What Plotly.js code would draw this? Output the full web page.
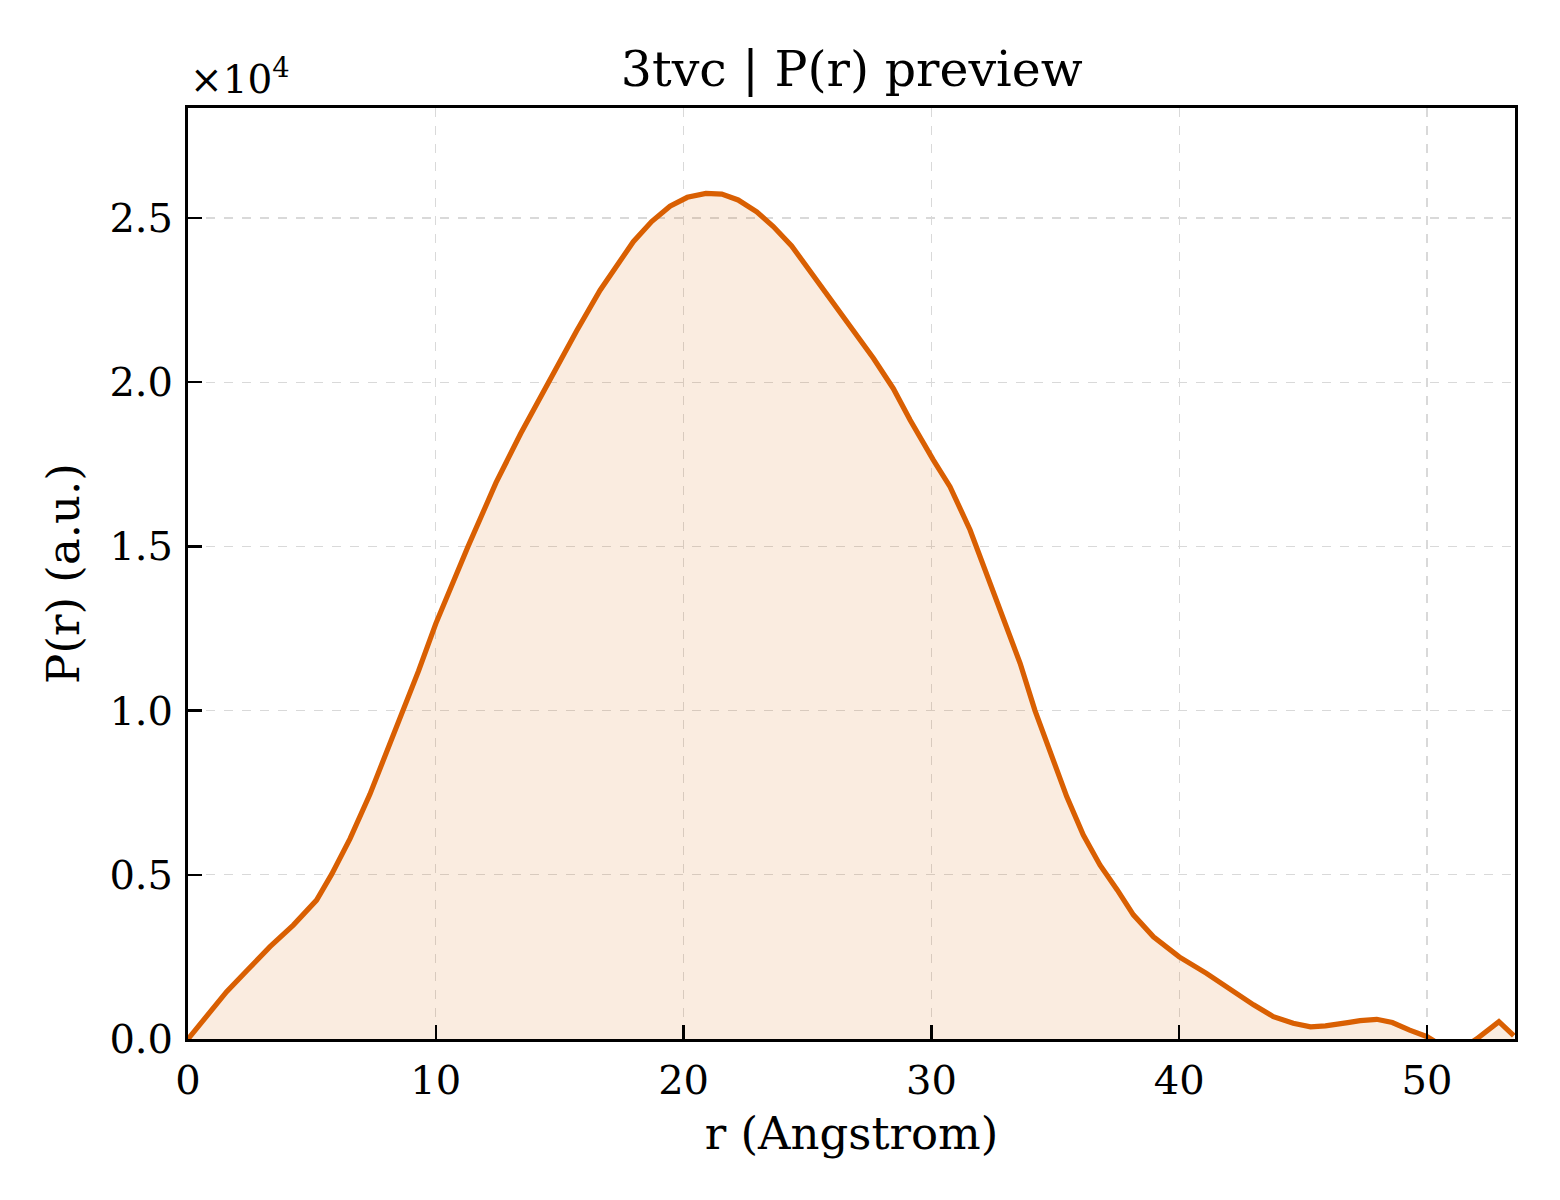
<!DOCTYPE html>
<html>
<head>
<meta charset="utf-8">
<script src="https://cdn.plot.ly/plotly-3.0.1.min.js"></script>
<style>
  body { margin: 0; background: #fff; }
  #chart { width: 1560px; height: 1200px; }
</style>
</head>
<body>
<div id="chart"></div>
<script>
// P(r) (r in Angstrom, P in a.u.)
let r_vals = [0, 0.8, 1.56, 2.4, 3.31, 4.25, 5.19, 5.8, 6.54, 7.34, 8.0, 8.68, 9.3, 10.0, 10.7, 11.3, 12.0, 12.43, 13.42, 14.55, 15.68, 16.63, 17.3, 17.97, 18.71, 19.45, 20.15, 20.9, 21.54, 22.2, 22.95, 23.62, 24.36, 25.23, 26.04, 26.85, 27.66, 28.46, 29.14, 30.08, 30.75, 31.56, 32.23, 32.9, 33.58, 34.18, 34.79, 35.46, 36.13, 36.8, 37.5, 38.15, 38.96, 40.0, 41.1, 42.2, 43.0, 43.8, 44.6, 45.3, 45.9, 46.8, 47.3, 47.97, 48.6, 49.3, 50.0, 50.7, 51.4, 52.0, 52.9, 53.5]
let p_vals = [0, 750, 1440, 2100, 2810, 3470, 4230, 5020, 6100, 7450, 8700, 10000, 11200, 12650, 13950, 15000, 16200, 16940, 18430, 20000, 21560, 22800, 23570, 24280, 24890, 25360, 25630, 25750, 25730, 25550, 25190, 24740, 24150, 23260, 22450, 21590, 20730, 19810, 18850, 17630, 16820, 15500, 14180, 12860, 11440, 10000, 8700, 7380, 6210, 5300, 4540, 3780, 3110, 2500, 2000, 1440, 1040, 680, 480, 370, 400, 500, 560, 600, 500, 270, 70, -250, -300, 0, 530, 100]

let yScale = 1e4
let yTicks = [0, 5000, 10000, 15000, 20000, 25000]
let xTicks = [0, 10, 20, 30, 40, 50]

let lineColor = '#d95f02'
let fontFam = 'DejaVu Serif, Liberation Serif, serif'

let trace = {
  x: r_vals,
  y: p_vals,
  type: 'scatter',
  mode: 'lines',
  fill: 'tozeroy',
  fillcolor: 'rgba(217,95,2,0.12)',
  line: { color: lineColor, width: 5.2 },
  hoverinfo: 'skip'
}

let axisCommon = {
  showline: true,
  linecolor: '#000',
  linewidth: 3,
  mirror: true,
  ticks: 'inside',
  ticklen: 14,
  tickwidth: 2.5,
  tickcolor: '#000',
  ticklabelstandoff: 4,
  showgrid: true,
  gridcolor: '#d9d9d9',
  gridwidth: 1.2,
  griddash: 'dash',
  zeroline: false,
  tickfont: { family: fontFam, size: 40, color: '#000' }
}

let layout = {
  width: 1560,
  height: 1200,
  paper_bgcolor: '#fff',
  plot_bgcolor: '#fff',
  showlegend: false,
  margin: { l: 188, r: 45, t: 108, b: 161, pad: 0 },
  font: { family: fontFam, color: '#000' },
  title: {
    text: '3tvc | P(r) preview',
    font: { family: fontFam, size: 49, color: '#000' },
    x: 0.546, xanchor: 'center',
    y: 0.943, yanchor: 'middle'
  },
  xaxis: Object.assign({}, axisCommon, {
    range: [0, 53.55],
    tickvals: xTicks,
    ticktext: xTicks.map(v => String(v)),
    title: { text: 'r (Angstrom)', font: { family: fontFam, size: 45, color: '#000' }, standoff: 16 }
  }),
  yaxis: Object.assign({}, axisCommon, {
    range: [0, 28350],
    tickvals: yTicks,
    ticktext: yTicks.map(v => (v / yScale).toFixed(1)),
    title: { text: 'P(r) (a.u.)', font: { family: fontFam, size: 45, color: '#000' }, standoff: 16 }
  }),
  annotations: [{
    text: '×10<sup>4</sup>',
    xref: 'paper', yref: 'paper',
    x: 0.0, y: 1.0,
    xanchor: 'left', yanchor: 'bottom',
    xshift: 0, yshift: 4,
    showarrow: false,
    font: { family: fontFam, size: 39, color: '#000' }
  }]
}

Plotly.newPlot('chart', [trace], layout, { staticPlot: true, displayModeBar: false })
</script>
</body>
</html>
